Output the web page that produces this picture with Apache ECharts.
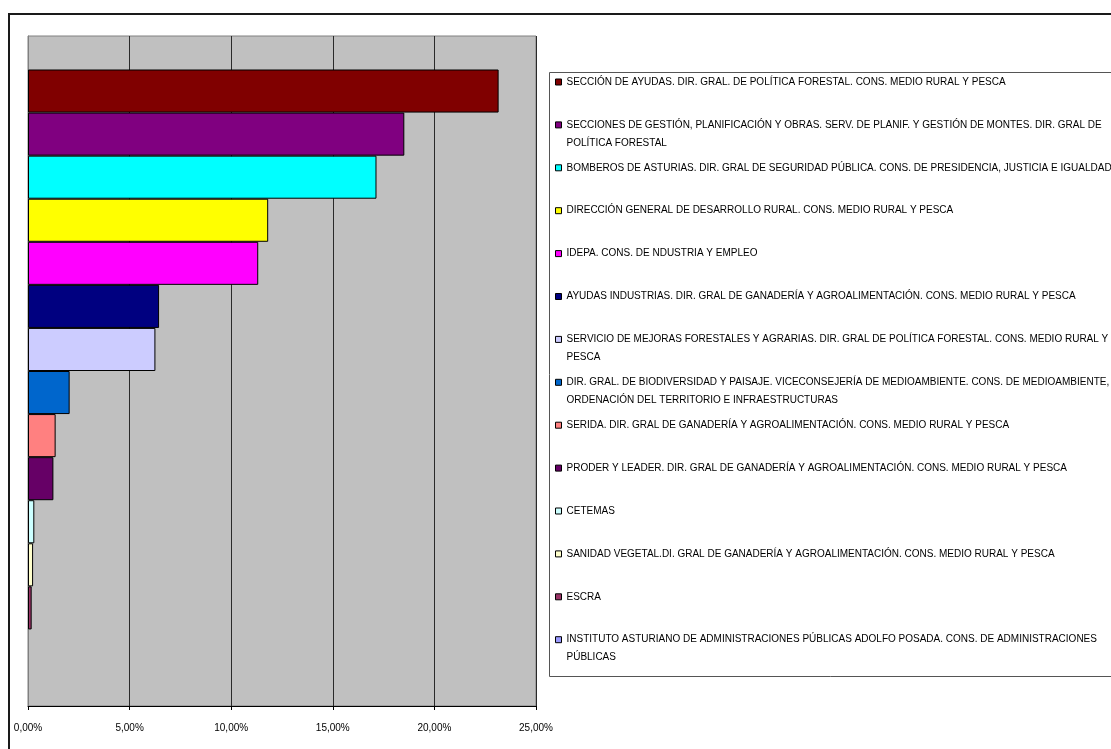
<!DOCTYPE html>
<html>
<head>
<meta charset="utf-8">
<script src="https://cdn.jsdelivr.net/npm/echarts@6/dist/echarts.min.js"></script>
<style>html,body{margin:0;padding:0;background:#fff}#c{width:1111px;height:749px}</style>
</head>
<body>
<div id="c"></div>
<script>
// Series names (legend labels; '\n' marks where the reference wraps)
const seriesNames = [
  'SECCIÓN DE AYUDAS. DIR. GRAL. DE POLÍTICA FORESTAL. CONS. MEDIO RURAL Y PESCA',
  'SECCIONES DE GESTIÓN, PLANIFICACIÓN Y OBRAS. SERV. DE PLANIF. Y GESTIÓN DE MONTES. DIR. GRAL DE\nPOLÍTICA FORESTAL',
  'BOMBEROS DE ASTURIAS. DIR. GRAL DE SEGURIDAD PÚBLICA. CONS. DE PRESIDENCIA, JUSTICIA E IGUALDAD',
  'DIRECCIÓN GENERAL DE DESARROLLO RURAL. CONS. MEDIO RURAL Y PESCA',
  'IDEPA. CONS. DE NDUSTRIA Y EMPLEO',
  'AYUDAS INDUSTRIAS. DIR. GRAL DE GANADERÍA Y AGROALIMENTACIÓN. CONS. MEDIO RURAL Y PESCA',
  'SERVICIO DE MEJORAS FORESTALES Y AGRARIAS. DIR. GRAL DE POLÍTICA FORESTAL. CONS. MEDIO RURAL Y\nPESCA',
  'DIR. GRAL. DE BIODIVERSIDAD Y PAISAJE. VICECONSEJERÍA DE MEDIOAMBIENTE. CONS. DE MEDIOAMBIENTE,\nORDENACIÓN DEL TERRITORIO E INFRAESTRUCTURAS',
  'SERIDA. DIR. GRAL DE GANADERÍA Y AGROALIMENTACIÓN. CONS. MEDIO RURAL Y PESCA',
  'PRODER Y LEADER. DIR. GRAL DE GANADERÍA Y AGROALIMENTACIÓN. CONS. MEDIO RURAL Y PESCA',
  'CETEMAS',
  'SANIDAD VEGETAL.DI. GRAL DE GANADERÍA Y AGROALIMENTACIÓN. CONS. MEDIO RURAL Y PESCA',
  'ESCRA',
  'INSTITUTO ASTURIANO DE ADMINISTRACIONES PÚBLICAS ADOLFO POSADA. CONS. DE ADMINISTRACIONES\nPÚBLICAS'
];
// Percent values
const seriesValues = [23.16, 18.52, 17.15, 11.82, 11.33, 6.45, 6.27, 2.05, 1.36, 1.25, 0.31, 0.25, 0.18, 0.0];
const seriesColors = ['#800000','#800080','#00FFFF','#FFFF00','#FF00FF','#000080','#CCCCFF','#0066CC','#FF8080','#660066','#CCFFFF','#FFFFCC','#993366','#9999FF'];
const categories = [''];
const xTicks = ['0,00%','5,00%','10,00%','15,00%','20,00%','25,00%'];

const FONT = "'Liberation Sans', Arial, sans-serif";
const chart = echarts.init(document.getElementById('c'), null, {renderer: 'canvas'});

const series = seriesNames.map((n, i) => ({
  name: n,
  type: 'bar',
  data: [seriesValues[i]],
  barGap: '0%',
  barCategoryGap: '10%',
  itemStyle: {color: seriesColors[i], borderColor: '#000', borderWidth: seriesValues[i] > 0 ? 1 : 0},
  silent: true,
  animation: false
}));

const legendY0 = 82, legendStep = 42.9;
const legends = seriesNames.map((n, i) => {
  const twoLines = n.indexOf('\n') >= 0;
  const yc = legendY0 + legendStep * i;
  return {
    show: true,
    data: [n],
    left: 555,
    top: twoLines ? yc - 27 : yc - 9,
    padding: 0,
    icon: 'rect',
    itemWidth: 6,
    itemHeight: 6,
    selectedMode: false,
    itemStyle: {borderColor: '#000', borderWidth: 1},
    formatter: (name) => name.indexOf('\n') >= 0 ? ' \n' + name : name,
    textStyle: {fontFamily: FONT, fontSize: 10, color: '#000', lineHeight: 18}
  };
});

chart.setOption({
  animation: false,
  backgroundColor: '#ffffff',
  grid: {left: 28, right: 575, top: 36, bottom: 43, show: true, backgroundColor: '#C0C0C0', borderColor: '#808080', borderWidth: 1},
  xAxis: {
    type: 'value', min: 0, max: 25, interval: 5,
    axisLine: {show: true, lineStyle: {color: '#000', width: 1}},
    axisTick: {show: true, length: 4, lineStyle: {color: '#000'}},
    axisLabel: {
      fontFamily: FONT, fontSize: 10, color: '#000', margin: 17,
      formatter: (v) => xTicks[Math.round(v / 5)]
    },
    splitLine: {show: true, lineStyle: {color: '#2a2a2a', width: 1}}
  },
  yAxis: {
    type: 'category', data: categories, inverse: true,
    axisLine: {show: true, lineStyle: {color: '#808080'}},
    axisTick: {show: false}, axisLabel: {show: false}
  },
  legend: legends,
  graphic: [
    {type: 'rect', shape: {x: 9, y: 14, width: 1200, height: 800}, style: {fill: 'none', stroke: '#1a1a1a', lineWidth: 2}, silent: true, z: 100},
    {type: 'rect', shape: {x: 549.5, y: 72.5, width: 700, height: 604}, style: {fill: 'none', stroke: '#555', lineWidth: 1}, silent: true, z: 100}
  ],
  series: series
});
</script>
</body>
</html>
